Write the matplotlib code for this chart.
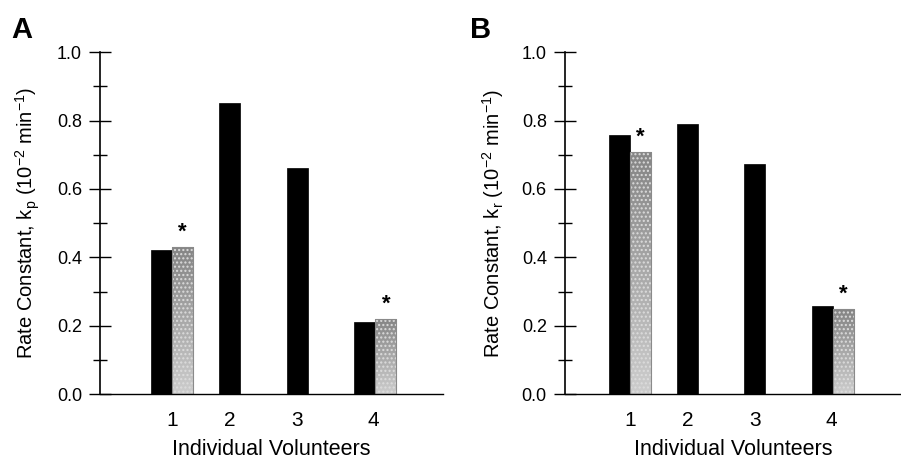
import numpy as np
import matplotlib
matplotlib.use('Agg')
import matplotlib.pyplot as plt

matplotlib.rcParams['font.family'] = ['Liberation Sans', 'DejaVu Sans']
matplotlib.rcParams['mathtext.fontset'] = 'custom'
matplotlib.rcParams['mathtext.rm'] = 'Liberation Sans'
matplotlib.rcParams['mathtext.it'] = 'Liberation Sans'

# data
volunteers = ['1', '2', '3', '4']
kp_black = [0.42, 0.85, 0.66, 0.21]
kp_gray = [0.43, np.nan, np.nan, 0.22]
kr_black = [0.757, 0.79, 0.673, 0.257]
kr_gray = [0.708, np.nan, np.nan, 0.248]
yticks = [0.0, 0.2, 0.4, 0.6, 0.8, 1.0]

groups = np.arange(1, 5)
w = 0.31
tick_pos = [1.0, 1.85, 2.85, 3.97]

fig = plt.figure(figsize=(9.01, 4.62), dpi=100)
axA = fig.add_axes([0.111, 0.147, 0.381, 0.740])
axB = fig.add_axes([0.627, 0.147, 0.373, 0.740])

panels = [(axA, kp_black, kp_gray, 'p', (-0.06, 5.0), 'A', 0.012),
          (axB, kr_black, kr_gray, 'r', (0.04, 5.0), 'B', 0.522)]

# vertical shade for the stippled bars: darker at the top, lighter at the bottom
shade = np.linspace(0.52, 0.80, 64).reshape(-1, 1)

for ax, blk, gry, sub, xl, letter, lx in panels:
    ax.bar(groups - w/2, blk, width=w, color='black', edgecolor='black', linewidth=0.5)
    gry = np.array(gry)
    bars = ax.bar(groups + w/2, gry, width=w, color='#a2a2a2', linewidth=0)
    for p in bars.patches:
        if np.isnan(p.get_height()):
            continue
        x0, h = p.get_x(), p.get_height()
        im = ax.imshow(shade, cmap='gray', vmin=0, vmax=1, aspect='auto',
                       extent=(x0, x0 + w, 0, h), origin='upper', zorder=1.5)
        im.set_clip_path(p)
    ax.bar(groups + w/2, gry, width=w, fill=False, edgecolor='#dcdcdc',
           hatch='....', linewidth=0, zorder=2)
    ax.bar(groups + w/2, gry, width=w, fill=False, edgecolor='#8a8a8a', linewidth=0.8, zorder=2.1)
    for g, v in zip(groups, gry):
        if not np.isnan(v):
            ax.text(g + w/2, v + 0.012, '*', ha='center', va='bottom',
                    fontsize=16, fontweight='bold')
    ax.set_xlim(*xl)
    ax.set_ylim(0, 1.0)
    ax.spines['right'].set_visible(False)
    ax.spines['top'].set_visible(False)
    ax.spines['left'].set_linewidth(1.2)
    ax.spines['bottom'].set_linewidth(1.0)
    ax.set_yticks(yticks)
    ax.set_yticklabels(['%.1f' % t for t in yticks])
    ax.set_yticks(np.arange(0.1, 1.0, 0.2), minor=True)
    ax.tick_params(axis='y', which='major', direction='inout', length=16, width=1.0,
                   labelsize=13, pad=5)
    ax.tick_params(axis='y', which='minor', direction='inout', length=10, width=1.0)
    ax.set_xticks(tick_pos)
    ax.set_xticklabels(volunteers)
    ax.tick_params(axis='x', length=0, labelsize=15, pad=12)
    ax.set_xlabel('Individual Volunteers', fontsize=15.5, labelpad=7)
    ax.set_ylabel('Rate Constant, k$_{%s}$ (10$^{-2}$ min$^{-1}$)' % sub, fontsize=14.5, labelpad=11)
    fig.text(lx, 0.965, letter, fontsize=21, fontweight='bold', ha='left', va='top')

plt.savefig('out.png', dpi=100)
